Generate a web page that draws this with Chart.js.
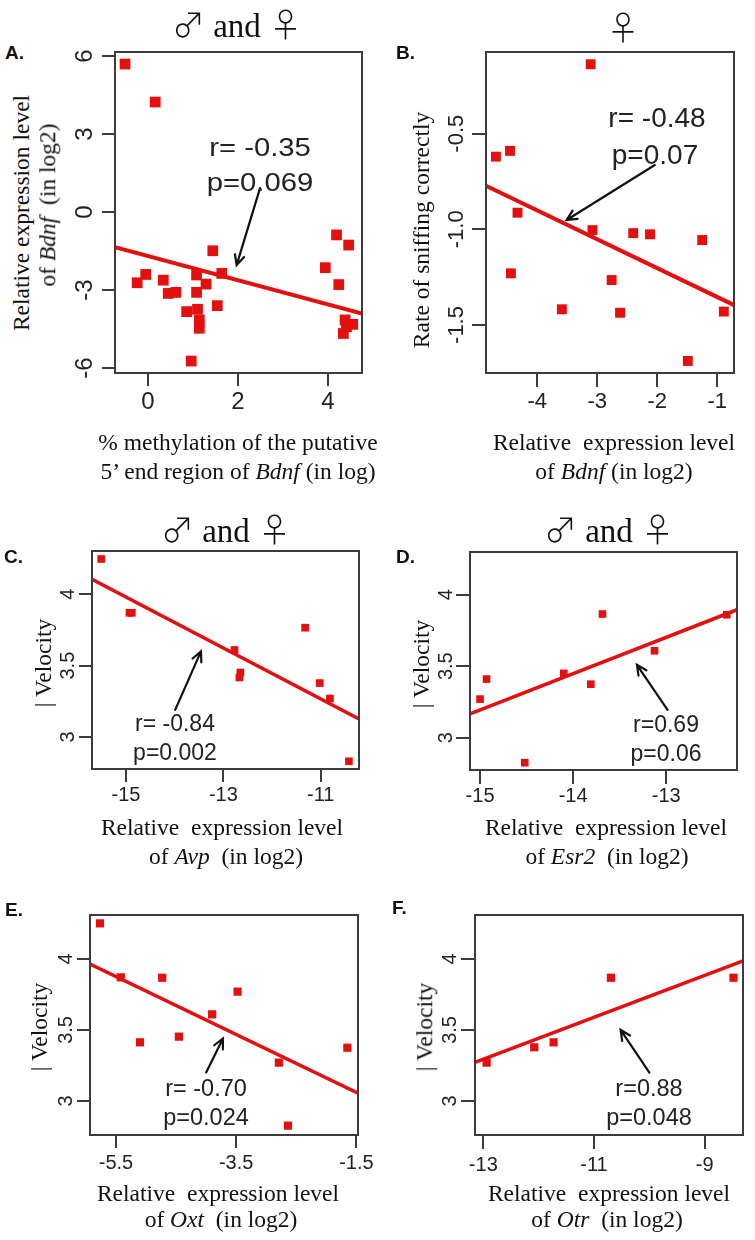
<!DOCTYPE html>
<html>
<head>
<meta charset="utf-8">
<script src="https://cdn.jsdelivr.net/npm/chart.js@4.4.0/dist/chart.umd.min.js"></script>
<style>
  body { margin: 0; background: #fff; }
  #fig { position: relative; width: 755px; height: 1240px; overflow: hidden; background: #fff; }
  .cv { position: absolute; }
  .t { position: absolute; white-space: nowrap; line-height: 1; transform: translate(-50%, -50%); }
  .serif { font-family: "Liberation Serif", "Times New Roman", serif; color: #111; }
  .sans { font-family: "Liberation Sans", Arial, sans-serif; color: #222; }
  .rot { transform: translate(-50%, -50%) rotate(-90deg); }
  .letter { position: absolute; line-height: 1; transform: translateY(-50%); font: bold 19px "Liberation Sans", Arial, sans-serif; color: #111; }
  .sym { font-family: "Noto Sans CJK JP", "DejaVu Sans", sans-serif; font-weight: 300; }
</style>
</head>
<body>
<div id="fig"></div>
<script>
// A: Bdnf expression vs methylation (both sexes)
const methA = [-0.51, 0.16, 4.19, 4.46, 3.94, 4.24, 1.44, 1.64, -0.05, -0.24, 0.34, 0.45, 0.62,
               1.08, 1.08, 1.29, 1.54, 0.86, 1.10, 1.14, 1.14, 0.96, 4.38, 4.55, 4.34, 4.41];
const bdnfA = [5.69, 4.23, -0.88, -1.27, -2.14, -2.79, -1.49, -2.36, -2.40, -2.72, -2.62, -3.13, -3.09,
               -2.42, -3.09, -2.77, -3.60, -3.83, -3.74, -4.15, -4.47, -5.73, -4.15, -4.32, -4.67, -4.41];
const fitXA = [-0.733, 4.756];
const fitYA = [-1.35, -3.90];
const xTicksA = ['0', '2', '4'];
const yTicksA = ['-6', '-3', '0', '3', '6'];

// B: sniffing rate vs Bdnf (females)
const bdnfB = [-3.11, -4.69, -4.455, -4.33, -3.08, -2.40, -2.12, -1.25, -4.44, -2.76, -3.59, -2.62, -0.89, -1.49];
const sniffB = [-0.137, -0.62, -0.59, -0.913, -1.004, -1.02, -1.026, -1.056, -1.23, -1.265, -1.418, -1.436, -1.43, -1.688];
const fitXB = [-4.855, -0.72];
const fitYB = [-0.772, -1.396];
const xTicksB = ['-4', '-3', '-2', '-1'];
const yTicksB = ['-1.5', '-1.0', '-0.5'];

// C: velocity vs Avp
const avpC = [-15.51, -14.93, -14.88, -12.77, -12.65, -12.67, -11.32, -11.02, -10.81, -10.42];
const velC = [4.247, 3.87, 3.87, 3.61, 3.452, 3.417, 3.766, 3.378, 3.27, 2.83];
const fitXC = [-15.699, -10.213];
const fitYC = [4.105, 3.126];
const xTicksC = ['-15', '-13', '-11'];

// D: velocity vs Esr2
const esrD = [-13.685, -12.35, -13.126, -15.0, -14.93, -14.1, -13.81, -14.52];
const velD = [3.865, 3.86, 3.608, 3.27, 3.41, 3.45, 3.374, 2.825];
const fitXD = [-15.108, -12.24];
const fitYD = [3.166, 3.895];
const xTicksD = ['-15', '-14', '-13'];

// E: velocity vs Oxt
const oxtE = [-5.766, -5.42, -4.731, -3.477, -3.9, -4.453, -5.1, -2.79, -1.65, -2.638];
const velE = [4.251, 3.871, 3.868, 3.77, 3.61, 3.453, 3.413, 3.27, 3.375, 2.826];
const fitXE = [-5.932, -1.473];
const fitYE = [3.965, 3.054];
const xTicksE = ['-5.5', '-3.5', '-1.5'];

// F: velocity vs Otr
const otrF = [-12.94, -12.08, -11.73, -10.695, -8.48];
const velF = [3.27, 3.378, 3.413, 3.868, 3.868];
const fitXF = [-13.15, -8.309];
const fitYF = [3.2725, 3.986];
const xTicksF = ['-13', '-11', '-9'];

const yTicksVel = ['3', '3.5', '4'];

const RED = '#e3100f';
const AXIS = '#3c3c3c';
const PL = 80, PR = 30, PT = 20, PB = 70;
const fig = document.getElementById('fig');

const panels = [
  { box: [115, 52, 362, 373], xr: [-0.733, 4.756], yr: [-6.19, 6.154], xs: methA, ys: bdnfA, fx: fitXA, fy: fitYA,
    xt: xTicksA, yt: yTicksA, r: 7.6, lw: 4, tl: 13, xf: 24, xpad: 2, yf: 24, yOff: 30,
    arrow: [[2.49, 0.92], [1.97, -2.04]] },
  { box: [486, 52, 734, 373], xr: [-4.855, -0.72], yr: [-1.751, -0.073], xs: bdnfB, ys: sniffB, fx: fitXB, fy: fitYB,
    xt: xTicksB, yt: yTicksB, r: 7, lw: 4, tl: 14, xf: 22, xpad: 2, yf: 22, yOff: 29,
    arrow: [[-2.04, -0.664], [-3.51, -0.951]] },
  { box: [92, 551, 359, 769], xr: [-15.699, -10.213], yr: [2.776, 4.303], xs: avpC, ys: velC, fx: fitXC, fy: fitYC,
    xt: xTicksC, yt: yTicksVel, r: 5.4, lw: 3.5, tl: 13, xf: 20, xpad: 1, yf: 20, yOff: 24,
    arrow: [[-13.99, 3.19], [-13.46, 3.60]] },
  { box: [470, 552, 737, 770], xr: [-15.108, -12.24], yr: [2.774, 4.299], xs: esrD, ys: velD, fx: fitXD, fy: fitYD,
    xt: xTicksD, yt: yTicksVel, r: 5.4, lw: 3.5, tl: 14, xf: 20, xpad: 0, yf: 20, yOff: 24,
    arrow: [[-12.986, 3.194], [-13.315, 3.51]] },
  { box: [90, 915, 358, 1135], xr: [-5.932, -1.473], yr: [2.76, 4.31], xs: oxtE, ys: velE, fx: fitXE, fy: fitYE,
    xt: xTicksE, yt: yTicksVel, r: 5.8, lw: 3.5, tl: 13, xf: 20, xpad: 3, yf: 20, yOff: 24,
    arrow: [[-4.0, 3.2], [-3.72, 3.44]] },
  { box: [475, 915, 743, 1135], xr: [-13.15, -8.309], yr: [2.76, 4.31], xs: otrF, ys: velF, fx: fitXF, fy: fitYF,
    xt: xTicksF, yt: yTicksVel, r: 5.8, lw: 3.5, tl: 14, xf: 20, xpad: 4, yf: 20, yOff: 25,
    arrow: [[-10.0, 3.2], [-10.52, 3.5]] }
];

function frame(p) {
  return {
    id: 'frame',
    afterDraw(chart) {
      const {ctx, chartArea: a, scales: {x, y}} = chart;
      ctx.save();
      ctx.strokeStyle = AXIS;
      ctx.lineWidth = 2;
      ctx.strokeRect(a.left, a.top, a.right - a.left, a.bottom - a.top);
      // rotated y tick labels, R style
      ctx.fillStyle = '#222';
      ctx.font = p.yf + 'px "Liberation Sans", Arial, sans-serif';
      ctx.textAlign = 'center';
      ctx.textBaseline = 'middle';
      p.yt.forEach(s => {
        const py = y.getPixelForValue(Number(s));
        ctx.save();
        ctx.translate(a.left - p.yOff, py);
        ctx.rotate(-Math.PI / 2);
        ctx.fillText(s, 0, 0);
        ctx.restore();
      });
      // annotation arrow
      const x0 = x.getPixelForValue(p.arrow[0][0]), y0 = y.getPixelForValue(p.arrow[0][1]);
      const x1 = x.getPixelForValue(p.arrow[1][0]), y1 = y.getPixelForValue(p.arrow[1][1]);
      const ang = Math.atan2(y1 - y0, x1 - x0), hl = 11, spread = 0.45;
      ctx.strokeStyle = '#111';
      ctx.lineWidth = 2.2;
      ctx.lineCap = 'round';
      ctx.beginPath();
      ctx.moveTo(x0, y0);
      ctx.lineTo(x1, y1);
      ctx.moveTo(x1 - hl * Math.cos(ang - spread), y1 - hl * Math.sin(ang - spread));
      ctx.lineTo(x1, y1);
      ctx.lineTo(x1 - hl * Math.cos(ang + spread), y1 - hl * Math.sin(ang + spread));
      ctx.stroke();
      ctx.restore();
    }
  };
}

panels.forEach(p => {
  const w = (p.box[2] - p.box[0]) + PL + PR;
  const h = (p.box[3] - p.box[1]) + PT + PB;
  const cv = document.createElement('canvas');
  cv.className = 'cv';
  cv.width = w; cv.height = h;
  cv.style.left = (p.box[0] - PL) + 'px';
  cv.style.top = (p.box[1] - PT) + 'px';
  cv.style.width = w + 'px'; cv.style.height = h + 'px';
  fig.appendChild(cv);

  new Chart(cv, {
    type: 'scatter',
    data: {
      datasets: [
        { data: p.xs.map((v, i) => ({x: v, y: p.ys[i]})), pointStyle: 'rect', pointRadius: p.r,
          backgroundColor: RED, borderWidth: 0, order: 1 },
        { type: 'line', data: p.fx.map((v, i) => ({x: v, y: p.fy[i]})), borderColor: RED,
          borderWidth: p.lw, pointRadius: 0, fill: false, order: 0 }
      ]
    },
    options: {
      responsive: false,
      animation: false,
      devicePixelRatio: 1,
      events: [],
      layout: { padding: {left: 0, top: PT, right: PR, bottom: 0}, autoPadding: false },
      plugins: { legend: {display: false}, tooltip: {enabled: false} },
      scales: {
        x: {
          type: 'linear', min: p.xr[0], max: p.xr[1],
          afterFit: s => { s.height = PB; },
          afterBuildTicks: s => { s.ticks = p.xt.map(t => ({value: Number(t)})); },
          border: {display: false},
          grid: {drawOnChartArea: false, drawTicks: true, tickLength: p.tl, color: AXIS, lineWidth: 2},
          ticks: {autoSkip: false, maxRotation: 0, padding: p.xpad, color: '#222',
                  font: {family: '"Liberation Sans", Arial, sans-serif', size: p.xf},
                  callback: (v, i) => p.xt[i]}
        },
        y: {
          type: 'linear', min: p.yr[0], max: p.yr[1],
          afterFit: s => { s.width = PL; },
          afterBuildTicks: s => { s.ticks = p.yt.map(t => ({value: Number(t)})); },
          border: {display: false},
          grid: {drawOnChartArea: false, drawTicks: true, tickLength: p.tl, color: AXIS, lineWidth: 2},
          ticks: {display: false}
        }
      }
    },
    plugins: [frame(p)]
  });
});

function txt(html, x, y, cls, style) {
  const d = document.createElement('div');
  d.className = 't ' + cls;
  d.innerHTML = html;
  d.style.left = x + 'px';
  d.style.top = y + 'px';
  if (style) d.style.cssText += style;
  fig.appendChild(d);
}
function letter(s, x, y) {
  const d = document.createElement('div');
  d.className = 'letter';
  d.textContent = s;
  d.style.left = x + 'px';
  d.style.top = y + 'px';
  fig.appendChild(d);
}

const both = '<span class="sym">♂</span> and <span class="sym">♀</span>';
const fem = '<span class="sym">♀</span>';
const title = 'font-size:33px;';
txt(both, 237, 25, 'serif', title);
txt(fem, 623, 28, 'serif', title);
txt(both, 226, 530, 'serif', title);
txt(both, 609, 530, 'serif', title);

letter('A.', 5, 53); letter('B.', 396, 53);
letter('C.', 4, 557); letter('D.', 396, 557);
letter('E.', 5, 910); letter('F.', 392, 908);

const lab = 'font-size:23.5px;';
// y axis titles
txt('Relative expression level', 22, 213, 'serif rot', lab);
txt('of <i>Bdnf</i>&nbsp; (in log2)', 48, 205, 'serif rot', lab);
txt('Rate of sniffing correctly', 422, 230, 'serif rot', lab);
txt('| Velocity', 44, 663, 'serif rot', lab);
txt('| Velocity', 422, 664, 'serif rot', lab);
txt('| Velocity', 40, 1027, 'serif rot', lab);
txt('| Velocity', 425, 1027, 'serif rot', lab);

// x axis titles
txt('% methylation of the putative', 238, 443, 'serif', lab);
txt('5’ end region of <i>Bdnf</i> (in log)', 238, 472, 'serif', lab);
txt('Relative&nbsp; expression level', 614, 443, 'serif', lab);
txt('of <i>Bdnf</i> (in log2)', 614, 472, 'serif', lab);
txt('Relative&nbsp; expression level', 222, 828, 'serif', lab);
txt('of <i>Avp</i>&nbsp; (in log2)', 226, 857, 'serif', lab);
txt('Relative&nbsp; expression level', 606, 828, 'serif', lab);
txt('of <i>Esr2</i>&nbsp; (in log2)', 607, 857, 'serif', lab);
txt('Relative&nbsp; expression level', 218, 1194, 'serif', lab);
txt('of <i>Oxt</i>&nbsp; (in log2)', 221, 1220, 'serif', lab);
txt('Relative&nbsp; expression level', 609, 1194, 'serif', lab);
txt('of <i>Otr</i>&nbsp; (in log2)', 607, 1220, 'serif', lab);

// correlation annotations
const stretch = 'font-size:25px;transform:translate(-50%,-50%) scaleX(1.17);';
txt('r= -0.35', 260, 147, 'sans', stretch);
txt('p=0.069', 260, 182, 'sans', stretch);
txt('r= -0.48', 657, 118, 'sans', 'font-size:28px;');
txt('p=0.07', 655, 155, 'sans', 'font-size:28px;');
txt('r= -0.84', 175, 723, 'sans', 'font-size:23px;');
txt('p=0.002', 175, 752, 'sans', 'font-size:23px;');
txt('r=0.69', 666, 724, 'sans', 'font-size:23px;');
txt('p=0.06', 666, 753, 'sans', 'font-size:23px;');
txt('r= -0.70', 206, 1089, 'sans', 'font-size:23.5px;');
txt('p=0.024', 206, 1118, 'sans', 'font-size:23.5px;');
txt('r=0.88', 649, 1089, 'sans', 'font-size:23.5px;');
txt('p=0.048', 649, 1118, 'sans', 'font-size:23.5px;');
</script>
</body>
</html>
